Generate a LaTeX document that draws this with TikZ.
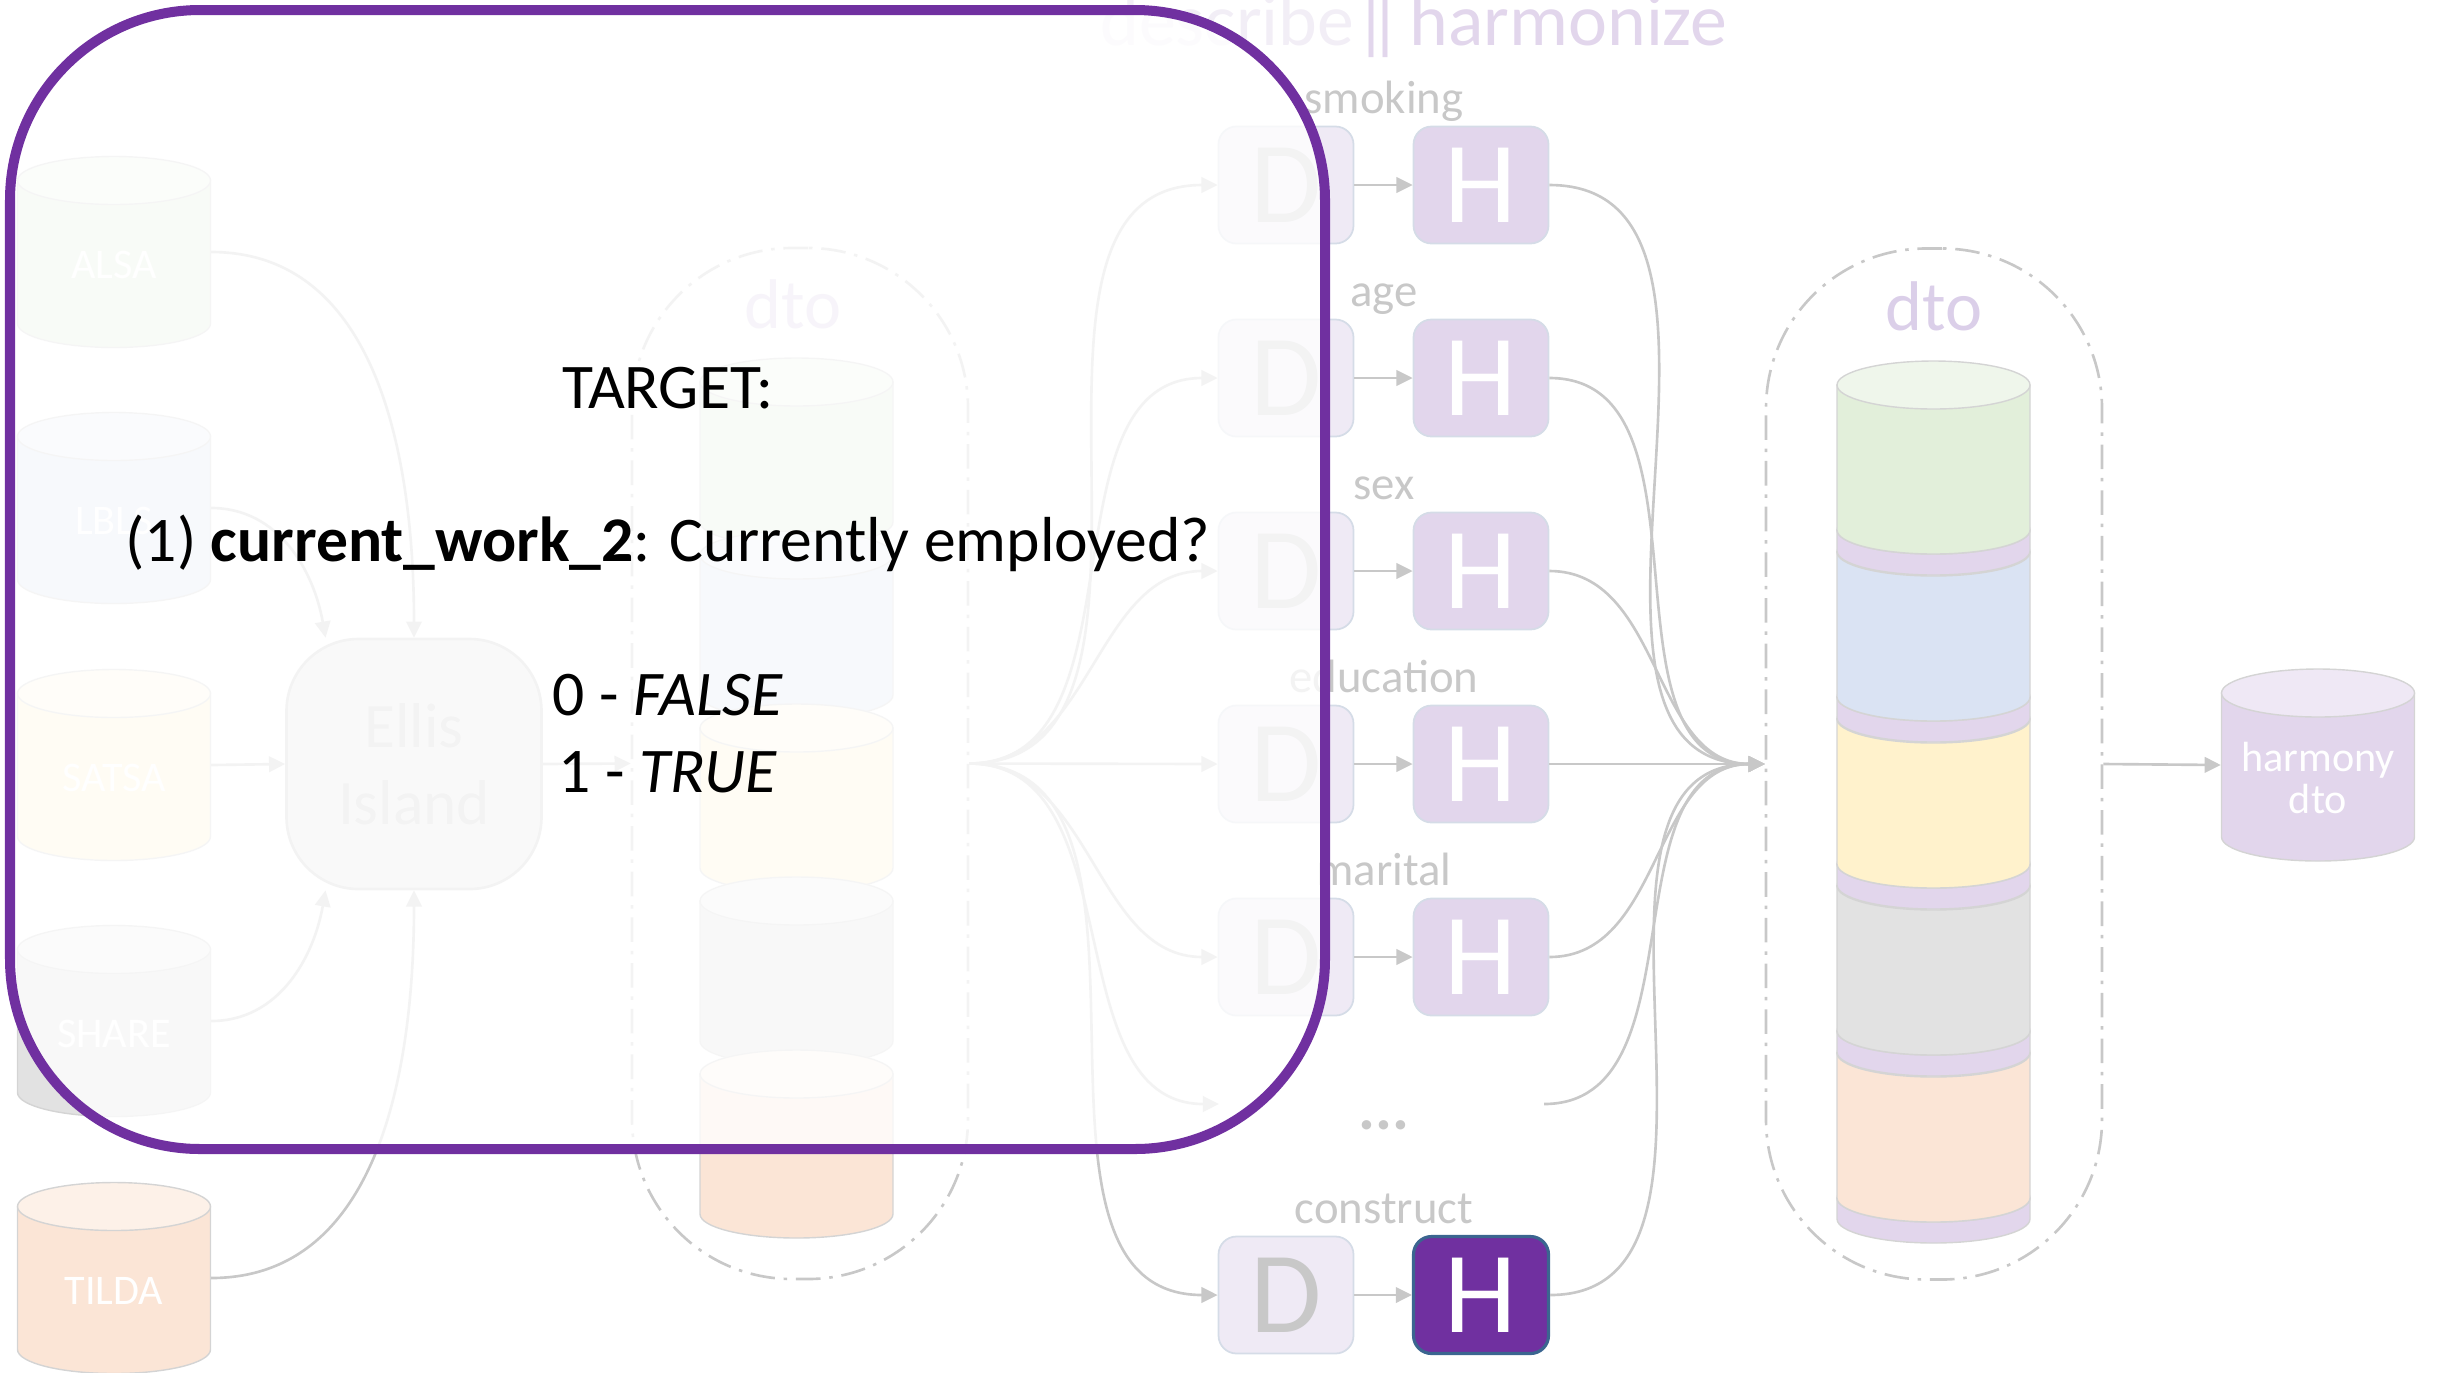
\documentclass[tikz,border=0pt]{standalone}
\usepackage{fontspec}
\setmainfont{Carlito}
\usepackage{xcolor}
\usepackage{tikz}
\usetikzlibrary{arrows.meta, positioning}

\definecolor{tpurple}{HTML}{7030A0}
\definecolor{hpurple}{HTML}{E2D6EC}
\definecolor{hborder}{HTML}{D5DCE7}
\definecolor{hborderdark}{HTML}{3B6590}
\definecolor{dfill}{HTML}{EFEAF5}
\definecolor{lgray}{HTML}{C8C8C8}
\definecolor{cylline}{HTML}{D4D4D4}
\definecolor{cgreen}{HTML}{E2EFDA}
\definecolor{cblue}{HTML}{DAE3F3}
\definecolor{cyellow}{HTML}{FFF2CC}
\definecolor{cgray}{HTML}{E2E2E2}
\definecolor{cpeach}{HTML}{FBE5D6}
\definecolor{descr}{HTML}{F2EEF6}
\definecolor{dtotext}{HTML}{DBCFE9}
\definecolor{ellisfill}{HTML}{E6E6E6}

\tikzset{
    cylbody/.style={draw=cylline, line width=0.4pt},
    cylnode/.style={rectangle, inner sep=0pt, minimum width=19.3mm, minimum height=1mm},
    cyltext/.style={text=white, align=center, inner sep=0pt, font=\fontsize{12}{12.2}\selectfont},
    dbox/.style={rectangle, rounded corners=1.8mm, draw=hborder, line width=0.5pt, fill=dfill,
        minimum width=13.5mm, minimum height=11.7mm, inner sep=0pt, text=lgray,
        font=\fontsize{33}{40}\selectfont},
    hbox/.style={dbox, fill=hpurple, text=white},
    hboxon/.style={hbox, fill=tpurple, draw=hborderdark, line width=0.9pt},
    rowlabel/.style={anchor=base, text=lgray, font=\fontsize{13.3}{16}\selectfont},
    cont/.style={rectangle, draw=lgray, line width=0.75pt, rounded corners=16mm,
        dash pattern=on 7pt off 2.5pt on 1pt off 2.5pt,
        minimum width=33.6mm, minimum height=103.1mm, inner sep=0pt},
    dtolabel/.style={anchor=base, text=dtotext, font=\fontsize{20}{24}\selectfont},
    conn/.style={draw=lgray, line width=0.75pt},
    arr/.style={conn, -{Triangle[length=4.6pt, width=4.4pt]}},
    qtext/.style={anchor=base, text=black, font=\fontsize{18.1}{22}\selectfont}
}

% data cylinder: name, x, y, half length, colour, text
\newcommand{\dbcylinder}[6]{%
    \filldraw[cylbody, fill=#5] ({#2-96.5},{#3-#4}) -- ({#2-96.5},{#3+#4})
        arc[start angle=180, end angle=0, x radius=96.5, y radius=24] -- ({#2+96.5},{#3-#4}) -- cycle;
    \filldraw[cylbody, fill=#5!55!white] (#2,{#3-#4}) ellipse[x radius=96.5, y radius=24];
    \node[cylnode] (#1) at (#2,#3) {};
    \node[cyltext] (#1txt) at (#2,{#3+13}) {#6};
}

\begin{document}
\begin{tikzpicture}[x=0.1mm, y=-0.1mm]
        \useasboundingbox (0,0) rectangle (2443,1372);

        % Title
        \node[anchor=base west, text=hpurple, font=\fontsize{21}{25}\selectfont] (title) at (1088,45)
            {\textcolor{descr}{describe}\textbar\kern-0.27em\textbar\kern0.1em harmonize};

        % Source studies
        \dbcylinder{alsa}{114}{252}{71.5}{cgreen}{ALSA}
        \dbcylinder{lbls}{114}{508}{71.5}{cblue}{LBLS}
        \dbcylinder{satsa}{114}{765}{71.5}{cyellow}{SATSA}
        \dbcylinder{share}{114}{1021}{71.5}{cgray}{SHARE}
        \dbcylinder{tilda}{114}{1278}{71.5}{cpeach}{TILDA}

        \node[rectangle, rounded corners=7.2mm, draw=lgray, line width=0.75pt, fill=ellisfill,
            minimum width=25.5mm, minimum height=25mm, text=lgray, align=center,
            font=\fontsize{18}{21.9}\selectfont] (ellis) at (414,764) {Ellis\\Island};

        \draw[arr] (alsa.east) to[out=0, in=90] (ellis.north);
        \draw[arr] (lbls.east) to[out=0, in=100] (ellis.125);
        \draw[arr] (satsa.east) -- (ellis.west);
        \draw[arr] (share.east) to[out=0, in=-100] (ellis.-125);
        \draw[arr] (tilda.east) to[out=0, in=-90] (ellis.south);

        % First dto
        \node[cont] (mdto) at (800,763.5) {};
        \node[dtolabel] (mdtolbl) at (793,328) {dto};
        \dbcylinder{mgreen}{796.5}{452}{70}{cgreen}{}
        \dbcylinder{mblue}{796.5}{625}{70}{cblue}{}
        \dbcylinder{myellow}{796.5}{798}{70}{cyellow}{}
        \dbcylinder{mgray}{796.5}{971}{70}{cgray}{}
        \dbcylinder{mpeach}{796.5}{1144}{70}{cpeach}{}

        \draw[arr] (ellis.east) -- (mdto.west);

        % Describe and harmonize per construct
        \node[rowlabel] (lsmk) at (1384,113) {smoking};
        \node[dbox] (dsmk) at (1286,185) {D};
        \node[hbox] (hsmk) at (1481,185) {H};

        \node[rowlabel] (lage) at (1384,306) {age};
        \node[dbox] (dage) at (1286,378) {D};
        \node[hbox] (hage) at (1481,378) {H};

        \node[rowlabel] (lsex) at (1384,499) {sex};
        \node[dbox] (dsex) at (1286,571) {D};
        \node[hbox] (hsex) at (1481,571) {H};

        \node[rowlabel] (ledu) at (1384,692) {education};
        \node[dbox] (dedu) at (1286,764) {D};
        \node[hbox] (hedu) at (1481,764) {H};

        \node[rowlabel] (lmar) at (1384,885) {marital};
        \node[dbox] (dmar) at (1286,957) {D};
        \node[hbox] (hmar) at (1481,957) {H};

        \coordinate (ellin) at (1219,1104);
        \coordinate (ellout) at (1544,1104);
        \node[anchor=base, text=lgray, font=\bfseries\fontsize{18}{22}\selectfont] (dots) at (1384,1129) {...};

        \node[rowlabel] (lcon) at (1384,1223) {construct};
        \node[dbox] (dcon) at (1286,1295) {D};
        \node[hboxon] (hcon) at (1481,1295) {H};

        \draw[arr] (mdto.east) to[out=0, in=180] (dsmk.west);
        \draw[arr] (mdto.east) to[out=0, in=180] (dage.west);
        \draw[arr] (mdto.east) to[out=0, in=180] (dsex.west);
        \draw[arr] (mdto.east) -- (dedu.west);
        \draw[arr] (mdto.east) to[out=0, in=180] (dmar.west);
        \draw[arr] (mdto.east) to[out=0, in=180] (ellin);
        \draw[arr] (mdto.east) to[out=0, in=180] (dcon.west);

        \draw[arr] (dsmk) -- (hsmk);
        \draw[arr] (dage) -- (hage);
        \draw[arr] (dsex) -- (hsex);
        \draw[arr] (dedu) -- (hedu);
        \draw[arr] (dmar) -- (hmar);
        \draw[arr] (dcon) -- (hcon);

        % Harmonized dto
        \node[cont] (rdto) at (1934,764) {};
        \node[dtolabel] (rdtolbl) at (1934,330) {dto};
        \dbcylinder{rband5}{1933.5}{1208.5}{10.5}{hpurple}{}
        \dbcylinder{rpeach}{1933.5}{1125.5}{72.5}{cpeach}{}
        \dbcylinder{rband4}{1933.5}{1041.5}{10.5}{hpurple}{}
        \dbcylinder{rgray}{1933.5}{958.5}{72.5}{cgray}{}
        \dbcylinder{rband3}{1933.5}{874.5}{10.5}{hpurple}{}
        \dbcylinder{ryellow}{1933.5}{791.5}{72.5}{cyellow}{}
        \dbcylinder{rband2}{1933.5}{707.5}{10.5}{hpurple}{}
        \dbcylinder{rblue}{1933.5}{624.5}{72.5}{cblue}{}
        \dbcylinder{rband1}{1933.5}{540.5}{10.5}{hpurple}{}
        \dbcylinder{rgreen}{1933.5}{457.5}{72.5}{cgreen}{}

        \draw[arr] (hsmk.east) to[out=0, in=180] (rdto.west);
        \draw[arr] (hage.east) to[out=0, in=180] (rdto.west);
        \draw[arr] (hsex.east) to[out=0, in=180] (rdto.west);
        \draw[arr] (hedu.east) -- (rdto.west);
        \draw[arr] (hmar.east) to[out=0, in=180] (rdto.west);
        \draw[arr] (ellout) to[out=0, in=180] (rdto.west);
        \draw[arr] (hcon.east) to[out=0, in=180] (rdto.west);

        \dbcylinder{harm}{2318}{765}{72}{hpurple}{harmony\\dto}
        \draw[arr] (rdto.east) -- (harm.west);

        % Focus box with the target question
        \node[rectangle, draw=tpurple, line width=2.85pt, fill=white, fill opacity=0.79,
            rounded corners=19mm, minimum width=131.5mm, minimum height=113.9mm] (focus) at (667.5,579.5) {};
        \node[qtext] (ttl) at (668,408) {TARGET:};
        \node[qtext] (qline) at (668,561) {(1) \textbf{current\_work\_2}: Currently employed?};
        \node[qtext] (fline) at (668,715) {0 - \textit{FALSE}};
        \node[qtext] (tline) at (668,792) {1 - \textit{TRUE}};
    \end{tikzpicture}
\end{document}
